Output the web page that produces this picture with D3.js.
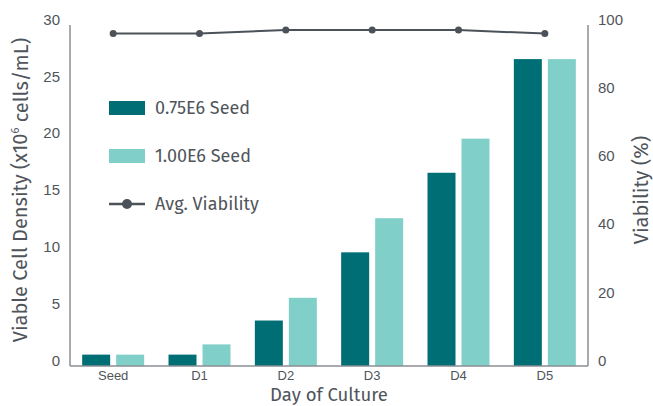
<!DOCTYPE html>
<html>
<head>
<meta charset="utf-8">
<script src="https://cdn.jsdelivr.net/npm/d3@7"></script>
<style>
  html, body { margin: 0; padding: 0; background: #ffffff; }
  svg { display: block; font-family: "Fira Sans", "Open Sans", sans-serif; }
</style>
</head>
<body>
<svg id="chart" width="653" height="406"></svg>
<script>
const categories = ["Seed", "D1", "D2", "D3", "D4", "D5"];
const seriesNames = ["0.75E6 Seed", "1.00E6 Seed"];
const seed075 = [1.0, 1.0, 4.0, 10.0, 17.0, 27.0];
const seed100 = [1.0, 1.9, 6.0, 13.0, 20.0, 27.0];
const viability = [97.5, 97.5, 98.5, 98.5, 98.5, 97.5];
const leftTicks = [0, 5, 10, 15, 20, 25, 30];
const rightTicks = [0, 20, 40, 60, 80, 100];
const lineName = "Avg. Viability";

const colors = ["#006e75", "#81cfc9"];
const lineColor = "#4b5259";
const axisColor = "#8a8f94";
const textColor = "#4f555b";

const svg = d3.select("#chart");
const m = { left: 70, right: 588, top: 25, bottom: 366 };

const x0 = d3.scaleBand().domain(categories).range([m.left, m.right])
  .paddingInner(0.282).paddingOuter(0.141);
const x1 = d3.scaleBand().domain(seriesNames).range([0, x0.bandwidth()])
  .paddingInner(6 / 34);
const yL = d3.scaleLinear().domain([0, 30]).range([m.bottom, m.top]);
const yR = d3.scaleLinear().domain([0, 100]).range([m.bottom, m.top]);

const series = [seed075, seed100];
const barData = [];
categories.forEach((c, i) => {
  seriesNames.forEach((s, j) => barData.push({ c, s, j, v: series[j][i] }));
});

svg.append("g").selectAll("rect").data(barData).join("rect")
  .attr("x", d => x0(d.c) + x1(d.s))
  .attr("y", d => yL(d.v))
  .attr("width", x1.bandwidth())
  .attr("height", d => yL(0) - yL(d.v))
  .attr("fill", d => colors[d.j]);

// Axes lines
const axL = svg.append("g").attr("transform", `translate(${m.left},0)`)
  .call(d3.axisLeft(yL).tickValues(leftTicks).tickSize(0).tickPadding(10));
const axR = svg.append("g").attr("transform", `translate(${m.right},0)`)
  .call(d3.axisRight(yR).tickValues(rightTicks).tickSize(0).tickPadding(10));
const axB = svg.append("g").attr("transform", `translate(0,${m.bottom})`)
  .call(d3.axisBottom(x0).tickSize(0).tickPadding(5));
[axL, axR, axB].forEach(a => {
  a.select(".domain").attr("stroke", axisColor).attr("stroke-width", 1.5);
  a.selectAll("text").attr("fill", textColor).attr("font-family", null);
});
axL.selectAll("text").attr("font-size", 15).attr("dy", "-0.05em");
axR.selectAll("text").attr("font-size", 15).attr("dy", "-0.05em");
axB.selectAll("text").attr("font-size", 13);
axB.select(".domain").attr("d", `M${m.left},0H${m.right}`);
axL.select(".domain").attr("d", `M0,${m.top}V${m.bottom}`);
axR.select(".domain").attr("d", `M0,${m.top}V${m.bottom}`);

// Viability line
const line = d3.line().x((d, i) => x0(categories[i]) + x0.bandwidth() / 2).y(d => yR(d));
svg.append("path").datum(viability).attr("d", line)
  .attr("fill", "none").attr("stroke", lineColor).attr("stroke-width", 2);
svg.append("g").selectAll("circle").data(viability).join("circle")
  .attr("cx", (d, i) => x0(categories[i]) + x0.bandwidth() / 2)
  .attr("cy", d => yR(d)).attr("r", 3.5).attr("fill", lineColor);

// Axis titles
svg.append("text").attr("x", 329).attr("y", 401)
  .attr("text-anchor", "middle").attr("font-size", 18.5).attr("fill", textColor)
  .text("Day of Culture");
const lt = svg.append("text").attr("transform", "translate(27,190) rotate(-90)")
  .attr("text-anchor", "middle").attr("font-size", 20).attr("fill", textColor);
lt.append("tspan").text("Viable Cell Density (x10");
lt.append("tspan").attr("font-size", 11).attr("dy", "-0.7em").text("6");
lt.append("tspan").attr("dy", "0.45em").text(" cells/mL)");
svg.append("text").attr("transform", "translate(648,190) rotate(-90)")
  .attr("text-anchor", "middle").attr("font-size", 20).attr("fill", textColor)
  .text("Viability (%)");

// Legend
const lg = svg.append("g");
seriesNames.forEach((s, j) => {
  const cy = 108 + j * 48;
  lg.append("rect").attr("x", 109).attr("y", cy - 7).attr("width", 36).attr("height", 14)
    .attr("fill", colors[j]);
  lg.append("text").attr("x", 155).attr("y", cy).attr("dy", "0.35em")
    .attr("font-size", 18).attr("fill", textColor).text(s);
});
const ly = 204;
lg.append("line").attr("x1", 109).attr("x2", 145).attr("y1", ly).attr("y2", ly)
  .attr("stroke", lineColor).attr("stroke-width", 2.5);
lg.append("circle").attr("cx", 127).attr("cy", ly).attr("r", 5).attr("fill", lineColor);
lg.append("text").attr("x", 155).attr("y", ly).attr("dy", "0.35em")
  .attr("font-size", 18).attr("fill", textColor).text(lineName);
</script>
</body>
</html>
